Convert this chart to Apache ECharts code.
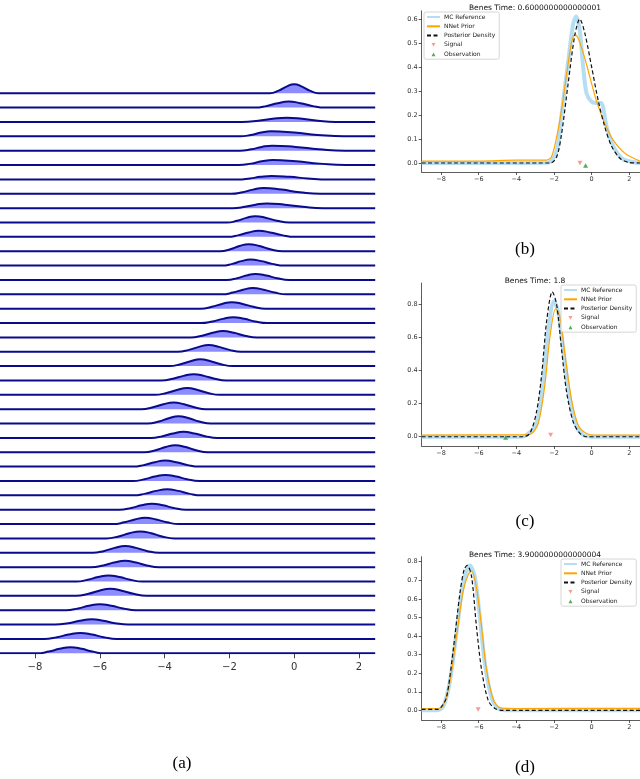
<!DOCTYPE html>
<html>
<head>
<meta charset="utf-8">
<script src="https://cdn.jsdelivr.net/npm/echarts@6/dist/echarts.min.js"></script>
<style>
html,body{margin:0;padding:0;background:#fff;}
#main{width:640px;height:779px;}
</style>
</head>
<body>
<div id="main"></div>
<script>
// (a) ridge rows, top row first: knot x positions and heights (in row spacings)
var ridgeX = [
  [-0.75,-0.48,-0.24,0,0.24,0.48,0.75],
  [-1.22,-0.84,-0.51,-0.17,0.19,0.55,0.95],
  [-1.61,-1.11,-0.67,-0.23,0.25,0.73,1.27],
  [-1.67,-1.33,-1.02,-0.72,0.0,0.72,1.53],
  [-1.68,-1.32,-1.0,-0.68,0.04,0.76,1.57],
  [-1.71,-1.33,-1.0,-0.66,0.06,0.78,1.59],
  [-1.75,-1.37,-1.04,-0.7,-0.14,0.42,1.05],
  [-1.95,-1.59,-1.27,-0.95,-0.39,0.17,0.8],
  [-1.9,-1.52,-1.19,-0.85,-0.29,0.27,0.9],
  [-2.08,-1.76,-1.48,-1.2,-0.86,-0.53,-0.15],
  [-2.05,-1.71,-1.4,-1.1,-0.74,-0.38,0.02],
  [-2.29,-1.97,-1.69,-1.41,-1.07,-0.74,-0.36],
  [-2.23,-1.91,-1.63,-1.35,-1.01,-0.68,-0.3],
  [-2.08,-1.76,-1.48,-1.2,-0.86,-0.53,-0.15],
  [-2.23,-1.89,-1.58,-1.28,-0.94,-0.61,-0.23],
  [-2.88,-2.54,-2.23,-1.93,-1.59,-1.26,-0.88],
  [-2.88,-2.52,-2.2,-1.88,-1.54,-1.21,-0.83],
  [-3.2,-2.84,-2.52,-2.2,-1.86,-1.53,-1.15],
  [-3.59,-3.25,-2.94,-2.64,-2.32,-2.0,-1.64],
  [-3.85,-3.51,-3.2,-2.9,-2.58,-2.26,-1.9],
  [-4.1,-3.74,-3.42,-3.1,-2.78,-2.46,-2.1],
  [-4.3,-3.94,-3.62,-3.3,-2.98,-2.66,-2.3],
  [-4.72,-4.36,-4.04,-3.72,-3.4,-3.08,-2.72],
  [-4.52,-4.18,-3.87,-3.57,-3.25,-2.93,-2.57],
  [-4.42,-4.06,-3.74,-3.42,-3.08,-2.75,-2.37],
  [-4.62,-4.28,-3.97,-3.67,-3.35,-3.03,-2.67],
  [-4.98,-4.62,-4.3,-3.98,-3.64,-3.31,-2.93],
  [-4.98,-4.62,-4.3,-3.98,-3.64,-3.31,-2.93],
  [-4.97,-4.59,-4.26,-3.92,-3.58,-3.25,-2.87],
  [-5.39,-5.03,-4.71,-4.39,-4.05,-3.72,-3.34],
  [-5.6,-5.24,-4.92,-4.6,-4.26,-3.93,-3.55],
  [-5.8,-5.42,-5.09,-4.75,-4.41,-4.08,-3.7],
  [-6.22,-5.86,-5.54,-5.22,-4.88,-4.55,-4.17],
  [-6.27,-5.89,-5.56,-5.22,-4.88,-4.55,-4.17],
  [-6.73,-6.37,-6.05,-5.73,-5.39,-5.06,-4.68],
  [-6.73,-6.35,-6.02,-5.68,-5.32,-4.96,-4.56],
  [-7.05,-6.67,-6.34,-6.0,-5.64,-5.28,-4.88],
  [-7.37,-6.97,-6.61,-6.25,-5.89,-5.53,-5.13],
  [-7.72,-7.32,-6.96,-6.6,-6.24,-5.88,-5.48],
  [-7.95,-7.57,-7.24,-6.9,-6.56,-6.23,-5.85]
];
var ridgeH = [
  [0,0.18,0.46,0.63,0.46,0.18,0],
  [0,0.12,0.31,0.42,0.31,0.12,0],
  [0,0.08,0.22,0.30,0.22,0.08,0],
  [0,0.10,0.26,0.35,0.26,0.10,0],
  [0,0.10,0.26,0.35,0.26,0.10,0],
  [0,0.10,0.26,0.35,0.26,0.10,0],
  [0,0.07,0.18,0.24,0.18,0.07,0],
  [0,0.11,0.29,0.40,0.29,0.11,0],
  [0,0.09,0.24,0.33,0.24,0.09,0],
  [0,0.12,0.32,0.44,0.32,0.12,0],
  [0,0.12,0.31,0.42,0.31,0.12,0],
  [0,0.14,0.36,0.49,0.36,0.14,0],
  [0,0.12,0.31,0.42,0.31,0.12,0],
  [0,0.12,0.31,0.42,0.31,0.12,0],
  [0,0.12,0.32,0.44,0.32,0.12,0],
  [0,0.13,0.33,0.45,0.33,0.13,0],
  [0,0.11,0.29,0.40,0.29,0.11,0],
  [0,0.12,0.32,0.44,0.32,0.12,0],
  [0,0.13,0.34,0.47,0.34,0.13,0],
  [0,0.13,0.34,0.47,0.34,0.13,0],
  [0,0.12,0.32,0.44,0.32,0.12,0],
  [0,0.13,0.34,0.47,0.34,0.13,0],
  [0,0.13,0.34,0.47,0.34,0.13,0],
  [0,0.14,0.37,0.51,0.37,0.14,0],
  [0,0.12,0.31,0.42,0.31,0.12,0],
  [0,0.14,0.36,0.49,0.36,0.14,0],
  [0,0.12,0.31,0.42,0.31,0.12,0],
  [0,0.12,0.31,0.42,0.31,0.12,0],
  [0,0.12,0.31,0.42,0.31,0.12,0],
  [0,0.12,0.31,0.42,0.31,0.12,0],
  [0,0.12,0.32,0.44,0.32,0.12,0],
  [0,0.14,0.36,0.49,0.36,0.14,0],
  [0,0.13,0.34,0.47,0.34,0.13,0],
  [0,0.12,0.32,0.44,0.32,0.12,0],
  [0,0.12,0.31,0.42,0.31,0.12,0],
  [0,0.14,0.36,0.49,0.36,0.14,0],
  [0,0.12,0.31,0.42,0.31,0.12,0],
  [0,0.10,0.27,0.37,0.27,0.10,0],
  [0,0.12,0.31,0.42,0.31,0.12,0],
  [0,0.12,0.31,0.42,0.31,0.12,0]
];
var xTicks = [-8,-6,-4,-2,0,2];

// (b) Benes time 0.6
var mcB = [[-9.03,0],[-4,0],[-2.3,0.002],[-1.86,0.05],[-1.6,0.2],[-1.25,0.42],[-0.98,0.58],[-0.82,0.61],[-0.63,0.55],[-0.45,0.40],[-0.27,0.29],[0.0,0.255],[0.25,0.25],[0.5,0.25],[0.8,0.15],[1.15,0.07],[1.6,0.02],[2.1,0.005],[2.57,0]];
var nnB = [[-9.03,0.008],[-6,0.008],[-4,0.012],[-2.45,0.012],[-2.14,0.025],[-1.88,0.10],[-1.6,0.22],[-1.33,0.37],[-1.07,0.50],[-0.88,0.535],[-0.72,0.52],[-0.45,0.46],[-0.1,0.36],[0.25,0.26],[0.7,0.165],[1.15,0.095],[1.77,0.04],[2.57,0.008]];
var postB = [[-9.03,0],[-2.2,0],[-1.86,0.025],[-1.6,0.12],[-1.25,0.33],[-0.9,0.53],[-0.63,0.60],[-0.36,0.54],[0.0,0.40],[0.35,0.26],[0.7,0.15],[1.06,0.07],[1.5,0.02],[1.95,0.003],[2.57,0]];
var sigB = [[-0.62,0.0]];
var obsB = [[-0.32,-0.01]];
var yTicksB = [0,0.1,0.2,0.3,0.4,0.5,0.6];

// (c) Benes time 1.8
var mcC = [[-9.03,0],[-3.8,0],[-3.46,0.01],[-2.93,0.08],[-2.57,0.35],[-2.3,0.65],[-2.0,0.82],[-1.77,0.75],[-1.5,0.52],[-1.15,0.22],[-0.8,0.06],[-0.44,0.01],[0,0],[2.57,0]];
var nnC = [[-9.03,0.01],[-4,0.012],[-3.28,0.015],[-2.84,0.08],[-2.48,0.32],[-2.22,0.6],[-1.91,0.775],[-1.68,0.72],[-1.42,0.50],[-1.06,0.22],[-0.71,0.07],[-0.27,0.02],[0.3,0.01],[2.57,0.01]];
var postC = [[-9.03,0],[-3.63,0],[-3.28,0.02],[-2.93,0.15],[-2.66,0.37],[-2.39,0.70],[-2.09,0.877],[-1.86,0.80],[-1.6,0.53],[-1.33,0.27],[-0.98,0.09],[-0.62,0.02],[-0.27,0],[2.57,0]];
var sigC = [[-2.18,0.01]];
var obsC = [[-4.57,-0.005]];
var yTicksC = [0,0.2,0.4,0.6,0.8];

// (d) Benes time 3.9
var mcD = [[-9.03,0],[-8.2,0],[-7.89,0.02],[-7.54,0.15],[-7.18,0.42],[-6.83,0.68],[-6.47,0.78],[-6.21,0.72],[-5.94,0.5],[-5.67,0.25],[-5.32,0.07],[-4.96,0.01],[-4.5,0],[2.57,0]];
var nnD = [[-9.03,0.01],[-8.2,0.01],[-7.89,0.025],[-7.54,0.15],[-7.18,0.40],[-6.83,0.64],[-6.56,0.73],[-6.38,0.75],[-6.12,0.66],[-5.85,0.45],[-5.59,0.22],[-5.23,0.06],[-4.88,0.015],[-4,0.01],[2.57,0.011]];
var postD = [[-9.03,0.005],[-8.16,0.005],[-7.98,0.02],[-7.71,0.07],[-7.36,0.32],[-7.0,0.63],[-6.77,0.76],[-6.61,0.78],[-6.38,0.72],[-6.12,0.45],[-5.85,0.22],[-5.5,0.055],[-5.14,0.01],[-4.7,0],[2.57,0]];
var sigD = [[-6.03,0.005]];
var obsD = [];
var yTicksD = [0,0.1,0.2,0.3,0.4,0.5,0.6,0.7,0.8];

var legendNames = ['MC Reference','NNet Prior','Posterior Density','Signal','Observation'];
var FONT = 'DejaVu Sans';
var downTri = 'path://M0,0L10,0L5,9Z';
// legend markers: small triangle inside a 26x12 box (corner specks keep the box size)
var legendDown = 'path://M0,0L0.01,0.01L0,0.01Z M26,12L25.99,11.99L26,11.99Z M9,2L17,2L13,9.5Z';
var legendUp = 'path://M0,0L0.01,0.01L0,0.01Z M26,12L25.99,11.99L26,11.99Z M9,10L17,10L13,2.5Z';

var chart = echarts.init(document.getElementById('main'));

function minus(v){ return v < 0 ? '\u2212' + Math.abs(v) : String(v); }

var series = [];
var nRows = ridgeX.length;
for (var i = 0; i < nRows; i++) {
  var base = nRows - 1 - i;
  var pts = [[-9.08, base]];
  for (var k = 0; k < ridgeX[i].length; k++) {
    pts.push([ridgeX[i][k], base + ridgeH[i][k]]);
  }
  pts.push([2.5, base]);
  series.push({
    type: 'line', xAxisIndex: 0, yAxisIndex: 0,
    data: pts, smooth: 0.5, symbol: 'none',
    lineStyle: {color: '#0a0a8c', width: 2},
    areaStyle: {color: 'rgba(0,0,255,0.45)', origin: base, opacity: 1}
  });
}

function panelSeries(idx, mc, nn, post, sig, obs){
  return [
    {name:'MC Reference', type:'line', xAxisIndex:idx, yAxisIndex:idx, data:mc, smooth:0.3, symbol:'none', z:2,
      lineStyle:{color:'#b5def2', width:4}, itemStyle:{color:'#b5def2'}},
    {name:'NNet Prior', type:'line', xAxisIndex:idx, yAxisIndex:idx, data:nn, smooth:0.3, symbol:'none', z:3,
      lineStyle:{color:'#ffa500', width:1.2}, itemStyle:{color:'#ffa500'}},
    {name:'Posterior Density', type:'line', xAxisIndex:idx, yAxisIndex:idx, data:post, smooth:0.3, symbol:'none', z:4,
      lineStyle:{color:'#111', width:1.2, type:[4,2.5]}, itemStyle:{color:'#111'}},
    {name:'Signal', type:'scatter', xAxisIndex:idx, yAxisIndex:idx, data:sig, symbol:downTri, symbolSize:[5,4.5], z:5,
      itemStyle:{color:'#f2837b'}},
    {name:'Observation', type:'scatter', xAxisIndex:idx, yAxisIndex:idx, data:obs, symbol:'triangle', symbolSize:[5,4.5], z:5,
      itemStyle:{color:'#2a9a2a'}}
  ];
}
series = series.concat(panelSeries(1, mcB, nnB, postB, sigB, obsB));
series = series.concat(panelSeries(2, mcC, nnC, postC, sigC, obsC));
series = series.concat(panelSeries(3, mcD, nnD, postD, sigD, obsD));

function rightX(i){
  return {
    type:'value', gridIndex:i, min:-9.03, max:2.57,
    axisLine:{show:true, onZero:false, lineStyle:{color:'#333', width:0.8}},
    axisTick:{show:true, length:3, customValues:xTicks, lineStyle:{color:'#333', width:0.8}},
    axisLabel:{customValues:xTicks, formatter:minus, fontSize:6.5, color:'#333', margin:4, fontFamily:FONT},
    splitLine:{show:false}
  };
}
function rightY(i, mn, mx, ticks){
  return {
    type:'value', gridIndex:i, min:mn, max:mx,
    axisLine:{show:true, onZero:false, lineStyle:{color:'#333', width:0.8}},
    axisTick:{show:true, length:3, customValues:ticks, lineStyle:{color:'#333', width:0.8}},
    axisLabel:{customValues:ticks, formatter:function(v){return v.toFixed(1);}, fontSize:6.5, color:'#333', margin:4, fontFamily:FONT},
    splitLine:{show:false}
  };
}
function legendAt(left, top){
  var items = [
    {name:legendNames[0], itemStyle:{opacity:0}},
    {name:legendNames[1], itemStyle:{opacity:0}},
    {name:legendNames[2], itemStyle:{opacity:0}},
    {name:legendNames[3], icon:legendDown},
    {name:legendNames[4], icon:legendUp}
  ];
  return {
    data: items, orient:'vertical', left:left, top:top,
    itemWidth:13, itemHeight:6, itemGap:3.3,
    backgroundColor:'rgba(255,255,255,0.85)', borderColor:'#ccc', borderWidth:0.8, borderRadius:2,
    padding:[2,4,2,2],
    textStyle:{fontSize:6, color:'#222', fontFamily:FONT, padding:[0,0,0,-1]}
  };
}

var option = {
  animation: false,
  backgroundColor: '#fff',
  title: [
    {text:'Benes Time: 0.6000000000000001', left:530, top:-1, textAlign:'center',
      textStyle:{fontSize:7.5, fontWeight:'normal', color:'#111', fontFamily:FONT}},
    {text:'Benes Time: 1.8', left:530, top:272, textAlign:'center',
      textStyle:{fontSize:7.5, fontWeight:'normal', color:'#111', fontFamily:FONT}},
    {text:'Benes Time: 3.9000000000000004', left:530, top:546, textAlign:'center',
      textStyle:{fontSize:7.5, fontWeight:'normal', color:'#111', fontFamily:FONT}}
  ],
  legend: [legendAt(424, 12), legendAt(561, 285), legendAt(561, 559)],
  grid: [
    {left:0, top:78.9, width:375.2, height:574.4},
    {left:421.7, top:10.8, width:218.3, height:161.2},
    {left:421.7, top:283, width:218.3, height:163},
    {left:421.7, top:556.7, width:218.3, height:163.3}
  ],
  xAxis: [
    {type:'value', gridIndex:0, min:-9.08, max:2.5,
      axisLine:{show:false},
      axisTick:{show:true, length:5, customValues:xTicks, lineStyle:{color:'#444', width:1}},
      axisLabel:{customValues:xTicks, formatter:minus, fontSize:10, color:'#333', margin:9, fontFamily:FONT},
      splitLine:{show:false}},
    rightX(1), rightX(2), rightX(3)
  ],
  yAxis: [
    {type:'value', gridIndex:0, min:0, max:40, show:false},
    rightY(1, -0.0375, 0.634, yTicksB),
    rightY(2, -0.056, 0.93, yTicksC),
    rightY(3, -0.052, 0.827, yTicksD)
  ],
  graphic: [
    {type:'text', x:182, y:764, style:{text:'(a)', font:'17px "Liberation Serif"', fill:'#000', align:'center', verticalAlign:'middle'}},
    {type:'text', x:525, y:250, style:{text:'(b)', font:'17px "Liberation Serif"', fill:'#000', align:'center', verticalAlign:'middle'}},
    {type:'text', x:525, y:522, style:{text:'(c)', font:'17px "Liberation Serif"', fill:'#000', align:'center', verticalAlign:'middle'}},
    {type:'text', x:525, y:768, style:{text:'(d)', font:'17px "Liberation Serif"', fill:'#000', align:'center', verticalAlign:'middle'}}
  ],
  series: series
};
chart.setOption(option);
</script>
</body>
</html>
